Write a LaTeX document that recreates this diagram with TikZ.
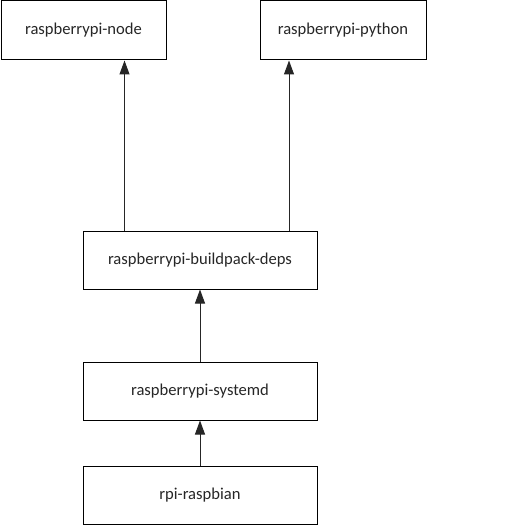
\documentclass[tikz,border=0pt]{standalone}
\usepackage{fontspec}
\setmainfont{Carlito}
\usetikzlibrary{arrows.meta}
\begin{document}
\begin{tikzpicture}[x=1pt,y=-1pt,
  box/.style={draw=black,line width=1pt,inner sep=0pt,font=\fontsize{16.6}{19}\selectfont,text=black!85},
  dep/.style={draw=black!85,line width=1pt,-{Triangle[length=14pt,width=10pt]}}]
\useasboundingbox (0,0) rectangle (504,526);
\node[box,minimum width=165pt,minimum height=59pt] (node) at (83.5,30.5) {raspberrypi-node};
\node[box,minimum width=166pt,minimum height=59pt] (python) at (343,30.5) {raspberrypi-python};
\node[box,minimum width=234pt,minimum height=58pt] (bp) at (200,260) {raspberrypi-buildpack-deps};
\node[box,minimum width=234pt,minimum height=58pt] (sd) at (200,391) {raspberrypi-systemd};
\node[box,minimum width=234pt,minimum height=58pt] (rb) at (200,495) {rpi-raspbian};
\draw[dep] (bp.north -| 124.5,0) -- (node.south -| 124.5,0);
\draw[dep] (bp.north -| 289,0) -- (python.south -| 289,0);
\draw[dep] (sd) -- (bp);
\draw[dep] (rb) -- (sd);
\end{tikzpicture}
\end{document}
